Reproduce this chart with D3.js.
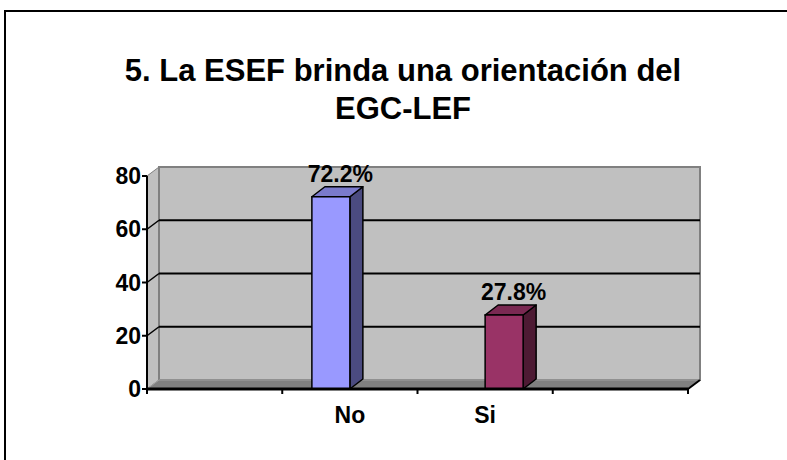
<!DOCTYPE html>
<html>
<head>
<meta charset="utf-8">
<script src="https://cdn.jsdelivr.net/npm/d3@7"></script>
<style>
  body { margin: 0; background: #fff; }
  text { font-family: Arial, "Liberation Sans", sans-serif; font-weight: bold; fill: #000; }
</style>
</head>
<body>
<div id="chart"></div>
<script>
// data
const titleLines = ["5. La ESEF brinda una orientación del", "EGC-LEF"];
const categories = ["", "No", "Si", ""];
const seriesNames = ["No", "Si"];
const seriesValues = [72.2, 27.8];
const seriesLabels = ["72.2%", "27.8%"];
const yTicks = [0, 20, 40, 60, 80];

const width = 787, height = 460;
const plotLeft = 147, plotRight = 688, plotBottom = 389, plotTop = 176;
const depthX = 12, depthY = -9;     // wall depth
const barDX = 13, barDY = -10;      // bar depth
const barColors = [
  { front: "#9999ff", side: "#4b4b80", top: "#7a7acc" },
  { front: "#993366", side: "#4d1a33", top: "#7a2952" }
];

const svg = d3.select("#chart").append("svg")
  .attr("width", width).attr("height", height);

// chart border
svg.append("rect")
  .attr("x", 5).attr("y", 11).attr("width", 800).attr("height", 500)
  .attr("fill", "none").attr("stroke", "#000").attr("stroke-width", 2);

// title
svg.append("g").selectAll("text")
  .data(titleLines).enter().append("text")
  .attr("x", 403).attr("y", (d, i) => 81 + i * 38)
  .attr("text-anchor", "middle")
  .style("font-size", "31px")
  .text(d => d);

const y = d3.scaleLinear().domain([0, 80]).range([plotBottom, plotTop]);
const x = d3.scaleBand().domain(d3.range(categories.length)).range([plotLeft, plotRight]);
const xs = d3.scaleBand().domain(seriesNames).range([-38, 38]);

const pts = p => p.map(q => q.join(",")).join(" ");

// side wall
svg.append("polygon")
  .attr("points", pts([[plotLeft, y(0)], [plotLeft, y(80)], [plotLeft + depthX, y(80) + depthY], [plotLeft + depthX, y(0) + depthY]]))
  .attr("fill", "#c0c0c0").attr("stroke", "#808080").attr("stroke-width", 1);

// back wall
svg.append("rect")
  .attr("x", plotLeft + depthX).attr("y", y(80) + depthY)
  .attr("width", plotRight - plotLeft).attr("height", y(0) - y(80))
  .attr("fill", "#c0c0c0").attr("stroke", "#808080").attr("stroke-width", 2);

// gridlines
const grid = svg.append("g");
yTicks.filter(t => t > 0 && t < 80).forEach(t => {
  grid.append("line")
    .attr("x1", plotLeft + depthX).attr("x2", plotRight + depthX)
    .attr("y1", y(t) + depthY).attr("y2", y(t) + depthY)
    .attr("stroke", "#000").attr("stroke-width", 2);
});
yTicks.filter(t => t > 0 && t < 80).forEach(t => {
  grid.append("line")
    .attr("x1", plotLeft).attr("y1", y(t))
    .attr("x2", plotLeft + depthX).attr("y2", y(t) + depthY)
    .attr("stroke", "#000").attr("stroke-width", 1.5);
});

// floor
svg.append("polygon")
  .attr("points", pts([[plotLeft, plotBottom], [plotRight, plotBottom], [plotRight + depthX, plotBottom + depthY], [plotLeft + depthX, plotBottom + depthY]]))
  .attr("fill", "#808080").attr("stroke", "#a0a0a0").attr("stroke-width", 1);
svg.append("line")
  .attr("x1", plotRight).attr("y1", plotBottom).attr("x2", plotRight + depthX).attr("y2", plotBottom + depthY)
  .attr("stroke", "#000").attr("stroke-width", 2);

// bars
const bars = svg.append("g").selectAll("g")
  .data(seriesNames.map((s, i) => ({ name: s, value: seriesValues[i], label: seriesLabels[i], i: i })))
  .enter().append("g");

bars.each(function(d) {
  const g = d3.select(this);
  const cx = x(categories.indexOf(d.name)) + x.bandwidth() / 2;
  const x0 = cx + xs(d.name), x1 = x0 + xs.bandwidth();
  const yt = y(d.value), yb = y(0);
  const c = barColors[d.i];
  g.append("polygon")
    .attr("points", pts([[x1, yb], [x1, yt], [x1 + barDX, yt + barDY], [x1 + barDX, yb + barDY]]))
    .attr("fill", c.side).attr("stroke", "#000").attr("stroke-width", 1.5).attr("stroke-linejoin", "round");
  g.append("polygon")
    .attr("points", pts([[x0, yt], [x1, yt], [x1 + barDX, yt + barDY], [x0 + barDX, yt + barDY]]))
    .attr("fill", c.top).attr("stroke", "#000").attr("stroke-width", 1.5).attr("stroke-linejoin", "round");
  g.append("rect")
    .attr("x", x0).attr("y", yt).attr("width", x1 - x0).attr("height", yb - yt)
    .attr("fill", c.front).attr("stroke", "#000").attr("stroke-width", 1.5);
  g.append("text")
    .attr("x", (x0 + x1 + barDX) / 2 + 3).attr("y", yt + barDY - 5)
    .attr("text-anchor", "middle").style("font-size", "23px")
    .text(d.label);
});

// value axis
const yAxis = svg.append("g");
yAxis.append("line")
  .attr("x1", plotLeft).attr("x2", plotLeft).attr("y1", y(0)).attr("y2", y(80))
  .attr("stroke", "#000").attr("stroke-width", 2);
yTicks.forEach(t => {
  yAxis.append("line")
    .attr("x1", plotLeft - 5).attr("x2", plotLeft).attr("y1", y(t)).attr("y2", y(t))
    .attr("stroke", "#000").attr("stroke-width", 2);
  yAxis.append("text")
    .attr("x", plotLeft - 6).attr("y", y(t) + 8)
    .attr("text-anchor", "end").style("font-size", "23px")
    .text(t);
});

// category axis
const xAxis = svg.append("g");
xAxis.append("line")
  .attr("x1", plotLeft).attr("x2", plotRight).attr("y1", plotBottom).attr("y2", plotBottom)
  .attr("stroke", "#000").attr("stroke-width", 3);
d3.range(categories.length + 1).forEach(i => {
  const tx = plotLeft + i * x.step();
  xAxis.append("line")
    .attr("x1", tx).attr("x2", tx).attr("y1", plotBottom).attr("y2", plotBottom + 5)
    .attr("stroke", "#000").attr("stroke-width", 2);
});
xAxis.selectAll("text.cat")
  .data(categories).enter().append("text")
  .attr("class", "cat")
  .attr("x", (d, i) => x(i) + x.bandwidth() / 2)
  .attr("y", 423)
  .attr("text-anchor", "middle").style("font-size", "23px")
  .text(d => d);
</script>
</body>
</html>
